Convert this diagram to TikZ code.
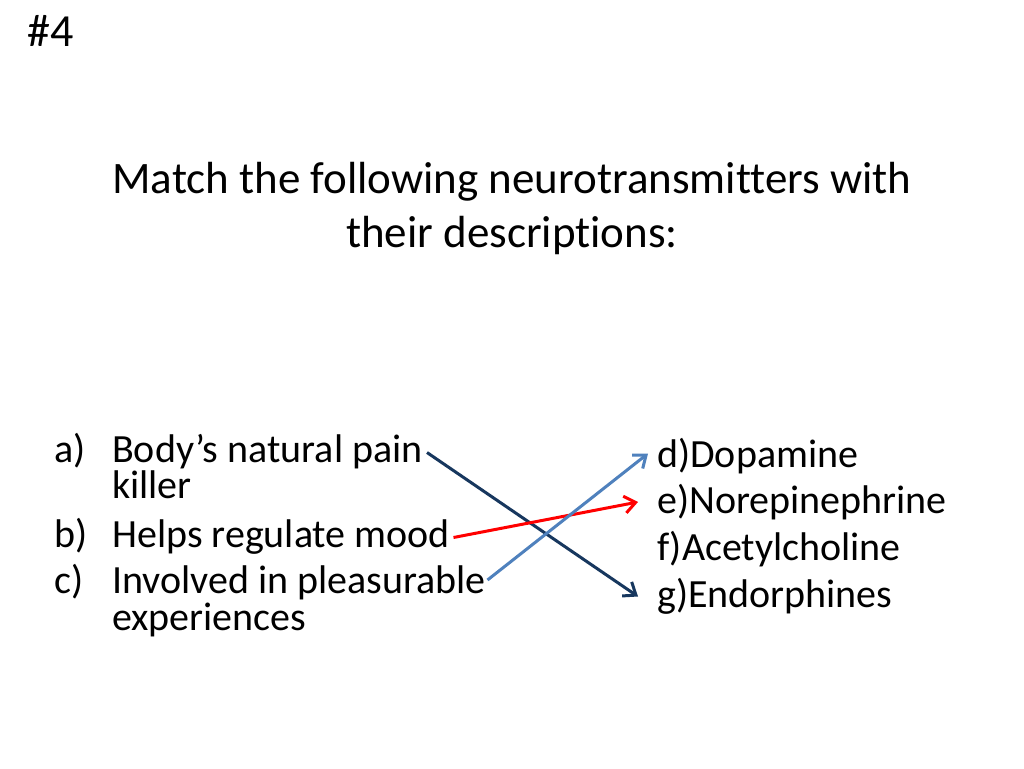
\documentclass[tikz,border=0pt]{standalone}
\usepackage{fontspec}
\setmainfont{Carlito}[Ligatures={NoCommon}]
\usetikzlibrary{arrows.meta}
\definecolor{navy}{HTML}{17375E}
\definecolor{sblue}{HTML}{4F81BD}
\definecolor{sred}{HTML}{FF0000}
\tikzset{
  txt/.style={anchor=base west, inner sep=0pt, font=\fontsize{40}{40}\selectfont},
  ttl/.style={anchor=base, inner sep=0pt, font=\fontsize{45}{45}\selectfont},
  link/.style={line width=3pt, -{Straight Barb[length=11pt,width=17pt,line width=3pt]}}
}
\begin{document}
\begin{tikzpicture}[x=1pt,y=-1pt]
\useasboundingbox[fill=white] (0,0) rectangle (1024,768);
\node[anchor=base west, inner sep=0pt, font=\fontsize{46}{46}\selectfont] (num) at (27,47) {\#4};
\node[ttl] (t1) at (512,193) {Match the following neurotransmitters with};
\node[ttl] (t2) at (512,247) {their descriptions:};
\node[txt] (la) at (54,462) {a)};
\node[txt] (a1) at (112,462) {Body’s natural pain};
\node[txt] (a2) at (112,498) {killer};
\node[txt] (lb) at (54,547) {b)};
\node[txt] (b1) at (112,547) {Helps regulate mood};
\node[txt] (lc) at (54,593) {c)};
\node[txt] (c1) at (112,593) {Involved in pleasurable};
\node[txt] (c2) at (112,630) {experiences};
\node[txt] (d) at (657,467) {d)Dopamine};
\node[txt] (e) at (657,513) {e)Norepinephrine};
\node[txt] (f) at (657,560) {f)Acetylcholine};
\node[txt] (g) at (657,607) {g)Endorphines};
\coordinate (sa) at (427,452.5);
\coordinate (eg) at (638,596.5);
\coordinate (sb) at (453.5,537.5);
\coordinate (ee) at (638,502);
\coordinate (sc) at (487.5,580);
\coordinate (ed) at (648,453.5);
\draw[link, navy] (sa) -- (eg);
\draw[link, sred] (sb) -- (ee);
\draw[link, sblue] (sc) -- (ed);
\end{tikzpicture}
\end{document}
